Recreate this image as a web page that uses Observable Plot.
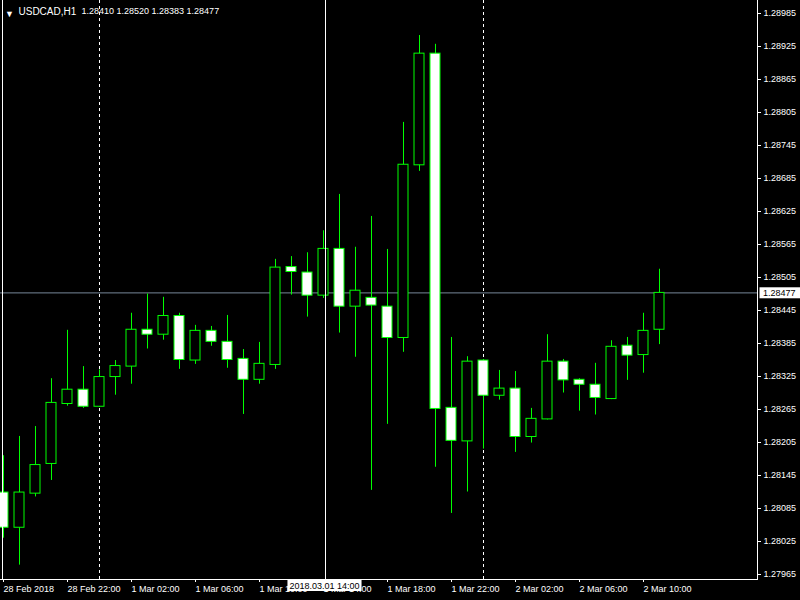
<!DOCTYPE html>
<html><head><meta charset="utf-8">
<script src="https://cdn.jsdelivr.net/npm/d3@7"></script>
<script src="https://cdn.jsdelivr.net/npm/@observablehq/plot@0.6"></script>
<style>
html,body{margin:0;padding:0;background:#000;overflow:hidden;}
</style></head><body><div id="chart"></div>
<script>
const symbol = "USDCAD,H1";
const times = [
  "2018.02.28 18:00","2018.02.28 19:00","2018.02.28 20:00","2018.02.28 21:00","2018.02.28 22:00","2018.02.28 23:00",
  "2018.03.01 00:00","2018.03.01 01:00","2018.03.01 02:00","2018.03.01 03:00","2018.03.01 04:00","2018.03.01 05:00",
  "2018.03.01 06:00","2018.03.01 07:00","2018.03.01 08:00","2018.03.01 09:00","2018.03.01 10:00","2018.03.01 11:00",
  "2018.03.01 12:00","2018.03.01 13:00","2018.03.01 14:00","2018.03.01 15:00","2018.03.01 16:00","2018.03.01 17:00",
  "2018.03.01 18:00","2018.03.01 19:00","2018.03.01 20:00","2018.03.01 21:00","2018.03.01 22:00","2018.03.01 23:00",
  "2018.03.02 00:00","2018.03.02 01:00","2018.03.02 02:00","2018.03.02 03:00","2018.03.02 04:00","2018.03.02 05:00",
  "2018.03.02 06:00","2018.03.02 07:00","2018.03.02 08:00","2018.03.02 09:00","2018.03.02 10:00","2018.03.02 11:00"
];
const open = [1.28114,1.28050,1.28112,1.28166,1.28275,1.28301,1.28270,1.28324,1.28343,1.28410,1.28401,1.28435,
  1.28354,1.28408,1.28388,1.28357,1.28319,1.28346,1.28524,1.28514,1.28472,1.28557,1.28452,1.28468,
  1.28452,1.28395,1.28709,1.28912,1.28268,1.28207,1.28354,1.28290,1.28303,1.28215,1.28247,1.28352,
  1.28319,1.28310,1.28284,1.28381,1.28364,1.28410];
const high = [1.28181,1.28216,1.28234,1.28321,1.28409,1.28343,1.28337,1.28354,1.28440,1.28475,1.28469,1.28440,
  1.28418,1.28416,1.28436,1.28374,1.28387,1.28538,1.28543,1.28550,1.28590,1.28656,1.28560,1.28616,
  1.28556,1.28787,1.28945,1.28929,1.28396,1.28361,1.28356,1.28336,1.28334,1.28267,1.28401,1.28356,
  1.28321,1.28349,1.28390,1.28396,1.28440,1.28520];
const low = [1.28031,1.27982,1.28106,1.28136,1.28271,1.28267,1.28269,1.28291,1.28311,1.28375,1.28391,1.28338,
  1.28347,1.28380,1.28340,1.28256,1.28311,1.28338,1.28473,1.28433,1.28467,1.28404,1.28360,1.28118,
  1.28238,1.28369,1.28698,1.28160,1.28076,1.28115,1.28193,1.28282,1.28187,1.28204,1.28246,1.28295,
  1.28262,1.28255,1.28283,1.28318,1.28331,1.28383];
const close = [1.28050,1.28114,1.28164,1.28277,1.28301,1.28270,1.28324,1.28344,1.28410,1.28401,1.28435,1.28355,
  1.28408,1.28388,1.28355,1.28319,1.28348,1.28523,1.28515,1.28472,1.28557,1.28452,1.28481,1.28454,
  1.28395,1.28710,1.28912,1.28266,1.28208,1.28352,1.28290,1.28303,1.28215,1.28248,1.28352,1.28318,
  1.28310,1.28286,1.28379,1.28363,1.28408,1.28477];
const xTickIndex = [0,4,8,12,16,20,24,28,32,36,40];
const xTickLabels = ["28 Feb 2018","28 Feb 22:00","1 Mar 02:00","1 Mar 06:00","1 Mar 10:00","1 Mar 14:00",
  "1 Mar 18:00","1 Mar 22:00","2 Mar 02:00","2 Mar 06:00","2 Mar 10:00"];
const yTicks = [1.28985,1.28925,1.28865,1.28805,1.28745,1.28685,1.28625,1.28565,1.28505,1.28445,
  1.28385,1.28325,1.28265,1.28205,1.28145,1.28085,1.28025,1.27965];
const crosshairTime = "2018.03.01 14:00";
const yDomain = [1.2795591, 1.2900864];

const candles = times.map((t, i) => ({i, t, open: open[i], high: high[i], low: low[i], close: close[i]}));
const last = candles[candles.length - 1];
const separators = candles.filter(d => d.t.endsWith(" 00:00"));
const crossIdx = times.indexOf(crosshairTime);
const fmt = d3.format(".5f");
const half = 5 / 16;
const lime = "#00ff00";

const chart = Plot.plot({
  width: 800, height: 600,
  marginLeft: 0, marginRight: 43, marginTop: 0, marginBottom: 21,
  style: {background: "#000", color: "#fff", fontFamily: "'Liberation Sans', Arial, sans-serif", fontSize: "9px"},
  x: {type: "linear", domain: [-3 / 16, 754 / 16]},
  y: {domain: yDomain},
  marks: [
    Plot.ruleX(separators, {x: "i", stroke: "#fff", strokeDasharray: "3,3"}),
    Plot.ruleY([last], {y: "close", stroke: "#778899"}),
    Plot.ruleX(candles, {x: "i", y1: "low", y2: "high", stroke: lime}),
    Plot.rect(candles.filter(d => d.close >= d.open), {x1: d => d.i - half, x2: d => d.i + half, y1: "open", y2: "close", fill: "#000", stroke: lime}),
    Plot.rect(candles.filter(d => d.close < d.open), {x1: d => d.i - half, x2: d => d.i + half, y1: "open", y2: "close", fill: "#fff", stroke: lime}),
    Plot.ruleX([crossIdx], {x: d => d, stroke: "#fff", dx: 2}),
    Plot.frame({anchor: "left", stroke: "#fff", dx: 2}),
    Plot.frame({anchor: "right", stroke: "#fff"}),
    Plot.frame({anchor: "bottom", stroke: "#fff"}),
    Plot.axisY(yTicks, {anchor: "right", tickSize: 3, tickPadding: 3, tickFormat: fmt, label: null, fill: "#fff"}),
    Plot.axisX(xTickIndex, {anchor: "bottom", tickSize: 3, tickPadding: 3, tickFormat: d => xTickLabels[xTickIndex.indexOf(d)], textAnchor: "start", label: null, fill: "#fff"}),
    Plot.text(["\u25BC"], {frameAnchor: "top-left", text: d => d, dx: 9, dy: 10.5, fontSize: 9, textAnchor: "middle", fill: "#fff"}),
    Plot.text([symbol], {frameAnchor: "top-left", text: d => d, dx: 18, dy: 7, lineAnchor: "top", textAnchor: "start", fontSize: 10, fill: "#fff"}),
    Plot.text([last], {frameAnchor: "top-left", text: d => [d.open, d.high, d.low, d.close].map(fmt).join(" "), dx: 81, dy: 7.6, lineAnchor: "top", textAnchor: "start", fontSize: 9, fill: "#fff"}),
    Plot.text([last], {y: "close", text: d => fmt(d.close), frameAnchor: "right", dx: 5.5, textAnchor: "start", fill: "#000"}),
    Plot.text([crossIdx], {x: d => d, text: () => crosshairTime, frameAnchor: "bottom", dy: 9, dx: 1, textAnchor: "middle", fill: "#000"})
  ]
});
document.getElementById("chart").appendChild(chart);

// white label boxes behind the bid price label and the crosshair time label
(function () {
  const ns = "http://www.w3.org/2000/svg";
  const svgRect = chart.getBoundingClientRect();
  function boxBehind(content, padX, toRight) {
    const t = Array.from(chart.querySelectorAll("text")).find(e => e.textContent === content);
    if (!t) return;
    const b = t.getBoundingClientRect();
    const x0 = b.left - svgRect.left - padX;
    const cy = (b.top + b.bottom) / 2 - svgRect.top;
    const w = toRight ? 800 - x0 : b.width + 2 * padX;
    const r = document.createElementNS(ns, "rect");
    r.setAttribute("x", x0);
    r.setAttribute("y", cy - 5.5);
    r.setAttribute("width", w);
    r.setAttribute("height", 11);
    r.setAttribute("fill", "#fff");
    let top = t;
    while (top.parentNode && top.parentNode !== chart) top = top.parentNode;
    chart.insertBefore(r, top);
  }
  boxBehind(fmt(last.close), 3.5, true);
  boxBehind(crosshairTime, 2, false);
})();
</script>
</body></html>
